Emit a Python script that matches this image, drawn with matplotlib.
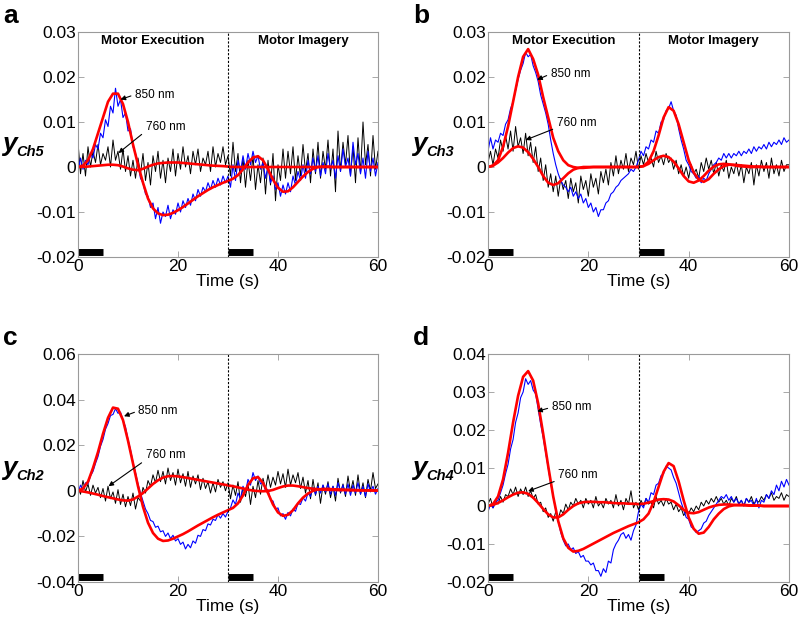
import numpy as np
import matplotlib
matplotlib.use("Agg")
import matplotlib.pyplot as plt
from matplotlib.ticker import FuncFormatter

plt.rcParams["font.family"] = ["Liberation Sans", "DejaVu Sans"]

# time axes: raw signals every 0.5 s, fitted curves every 1 s
t_raw = np.arange(0, 60.5, 0.5)
t_fit = np.arange(0, 61, 1)

# all values below are in units of 1e-3
# ---- panel a (Ch5) ----
black_a = [5.5, -1.5, 3.0, -2.0, 4.5, 0.0, 3.5, 1.0, 5.0, 0.5,
           3.0, 1.5, 4.5, 0.0, 6.0, 1.5, 3.5, -0.5, 4.0, -1.0,
           2.5, -2.0, 1.5, -2.5, 2.0, -1.5, 3.0, -3.0, 1.0, -4.0,
           2.5, -1.0, 3.5, -2.5, 1.5, -3.5, 2.0, -1.0, 4.0, -2.0,
           3.0, -0.5, 4.5, 0.0, 2.5, -1.5, 3.5, 0.5, 4.0, -1.0,
           2.0, 0.5, 3.5, -1.0, 4.5, 0.0, 3.0, 1.0, 4.5, 0.5,
           2.5, -2.0, 5.5, -1.0, 3.0, -3.5, 2.0, -4.5, 1.5, -3.0,
           2.5, -5.0, 0.5, -3.5, 2.0, -6.0, 1.5, -4.0, 3.0, -7.5,
           0.5, -3.0, 4.0, -2.5, 3.5, -1.5, 4.5, -3.0, 2.5, -2.0,
           5.0, -1.0, 3.0, -3.5, 4.0, -1.5, 5.5, -2.5, 3.5, -0.5,
           6.0, -2.0, 4.0, -5.5, 8.0, -1.0, 5.5, 0.5, 7.0, -2.0,
           4.5, -3.5, 6.5, -1.5, 10.0, 0.5, 5.0, -2.0, 7.0, -0.5,
           3.5]
blue_a = [-1.0, 2.0, -0.5, 1.5, 0.5, 3.0, 2.0, 5.0, 4.0, 7.5,
          6.5, 10.5, 9.0, 13.5, 12.0, 17.5, 13.5, 15.0, 11.0, 12.0,
          8.0, 8.5, 4.5, 3.0, 0.5, -2.5, -3.5, -6.0, -6.5, -9.0,
          -8.0, -11.5, -9.0, -12.5, -10.0, -11.0, -8.5, -11.5, -9.5, -10.5,
          -8.0, -10.0, -7.5, -9.0, -7.0, -8.5, -6.0, -7.5, -5.0, -6.5,
          -4.5, -5.5, -3.5, -5.0, -3.0, -4.5, -2.5, -4.0, -2.0, -3.5,
          -2.0, -4.5, 0.5, -3.0, 1.5, -1.0, 2.5, -0.5, 3.0, 0.5,
          3.5, 1.0, 2.5, -0.5, 1.0, -2.5, 0.0, -3.5, -2.0, -5.0,
          -3.5, -6.5, -4.0, -6.0, -3.5, -5.5, -2.0, -4.0, -1.0, -3.0,
          0.5, -2.5, 1.5, -1.5, 2.0, -1.0, 2.5, -2.0, 1.0, -1.5,
          3.0, -0.5, 1.5, -2.5, 2.5, -1.0, 4.0, 0.0, 2.0, -2.0,
          5.5, 0.5, 3.0, -1.5, 2.0, -2.5, 3.5, -1.0, 2.0, -2.0,
          1.0]
fit850_a = [0, 0.3, 1.5, 4, 7.5, 11, 14.5, 16.3, 16.3, 14,
            10, 5, 0.5, -3.5, -7, -9.2, -10.3, -10.7, -10.6, -10.2,
            -9.6, -8.9, -8.1, -7.3, -6.5, -5.8, -5.1, -4.5, -4.0, -3.5,
            -3.1, -2.6, -1.8, -0.5, 1.0, 2.1, 2.4, 1.5, -0.5, -2.8,
            -4.6, -5.5, -5.4, -4.5, -3.3, -2.1, -1.1, -0.4, 0, 0.1,
            0.1, 0, 0, 0, 0, 0, 0, 0, 0, 0, 0]
fit760_a = [0, 0.05, 0.1, 0.2, 0.3, 0.4, 0.5, 0.5, 0.4, 0.1,
            -0.3, -0.6, -0.7, -0.4, 0.1, 0.5, 0.8, 0.9, 1.0, 1.0,
            1.0, 0.9, 0.8, 0.7, 0.6, 0.5, 0.4, 0.3, 0.25, 0.2,
            0.1, 0, 0, 0, 0, 0, 0, 0, 0, 0,
            0, 0, 0, 0, 0, 0, 0, 0, 0, 0,
            0, 0, 0, 0, 0, 0, 0, 0, 0, 0, 0]

# ---- panel b (Ch3) ----
black_b = [1.0, 3.5, 0.5, 4.0, 2.0, 6.0, 3.5, 7.0, 4.0, 8.0,
           3.5, 9.0, 4.5, 6.5, 3.0, 7.5, 2.5, 5.5, 1.0, 4.5,
           -1.0, 2.0, -3.0, 0.5, -4.5, -1.5, -5.5, -2.0, -6.5, -2.5,
           -5.0, -3.0, -7.0, -2.5, -5.5, -3.5, -8.0, -2.0, -5.0, -3.0,
           -6.5, -1.5, -4.5, -2.5, -6.0, -1.0, -3.5, -0.5, -4.0, 1.0,
           -2.0, 2.5, -1.5, 1.5, -0.5, 3.0, -1.0, 2.0, 0.5, 3.5,
           -0.5, 2.5, 0.5, 3.0, 1.0, 2.0, 0.0, 3.5, 1.0, 2.5,
           0.5, 3.0, 1.0, 2.0, -0.5, 1.5, -1.5, 0.5, -2.0, 0.0,
           -2.5, 0.5, -1.5, -0.5, -2.5, 1.0, -1.0, 2.0, -0.5, 1.5,
           -1.5, 1.0, -2.0, 0.5, -1.0, 1.5, -2.5, 0.0, -1.5, 1.0,
           -2.0, 0.5, -3.5, 0.0, -1.5, 1.0, -4.0, 0.5, -2.0, 1.5,
           -1.0, 1.0, -2.5, 2.0, -1.5, 0.5, -2.0, 1.5, -1.0, 0.5,
           0.5]
blue_b = [3.5, 6.5, 4.0, 6.0, 5.5, 7.5, 7.0, 9.5, 10.5, 13.0,
          14.5, 17.0, 19.5, 21.5, 23.0, 25.5, 24.5, 25.0, 22.5, 21.0,
          19.0, 16.0, 14.0, 12.0, 9.5, 6.0, 3.0, 0.5, -1.5, -3.0,
          -4.0, -4.5, -5.5, -4.5, -6.5, -5.5, -7.0, -6.0, -8.0, -7.0,
          -9.0, -8.0, -10.0, -9.0, -11.0, -9.5, -9.5, -8.0, -7.5, -6.0,
          -5.5, -4.5, -4.0, -3.0, -2.5, -2.0, -1.5, -0.5, -1.0, 0.0,
          1.5, 3.5, 2.5, 4.5, 4.0, 6.0, 5.5, 8.0, 7.5, 10.0,
          10.5, 12.5, 13.0, 14.5, 12.5, 11.5, 8.5, 6.0, 4.0, 1.5,
          0.5, -1.0, -1.5, -2.5, -2.0, -3.5, -2.5, -3.0, -1.5, -0.5,
          0.5, 1.0, 2.0, 1.5, 3.0, 2.0, 3.0, 2.0, 3.0, 2.5,
          3.5, 2.5, 3.5, 3.0, 4.0, 3.0, 4.5, 3.5, 4.5, 4.0,
          5.0, 4.0, 5.5, 4.5, 5.5, 5.0, 6.0, 5.0, 6.5, 5.5,
          6.0]
fit850_b = [0, 0.3, 1.5, 4.5, 9, 14.5, 20, 24.5, 26.2, 24,
            20.5, 15.5, 11, 6.5, 3.5, 1.5, 0.4, 0, -0.2, -0.2,
            -0.1, 0, 0, 0, 0, 0, 0, 0, 0, 0,
            0, 0.2, 1.2, 3.5, 7, 11, 13.3, 12.5, 9.5, 5.5,
            1.5, -1.2, -2.8, -3.3, -2.7, -1.5, -0.5, 0.2, 0.5, 0.5,
            0.4, 0.3, 0.2, 0.1, 0.1, 0, 0, 0, 0, 0, 0]
fit760_b = [0, 0.3, 1, 2, 3.2, 4.2, 4.6, 4.3, 3.3, 1.8,
            0, -2, -3.5, -4.0, -3.6, -2.5, -1.4, -0.6, -0.2, 0,
            0, 0, 0, 0, 0, 0, 0, 0, 0, 0,
            0, 0.2, 0.7, 1.5, 2.2, 2.5, 2.2, 1.2, -0.3, -2,
            -3.2, -3.5, -3.0, -2.0, -0.8, 0.1, 0.6, 0.7, 0.6, 0.4,
            0.2, 0.1, 0, 0, 0, 0, 0, 0, 0, 0, 0]

# ---- panel c (Ch2) ----
black_c = [2.0, -1.5, 4.5, -0.5, 3.0, -2.0, 2.5, -1.0, 1.5, -3.0,
           1.0, -4.5, 2.0, -3.5, -0.5, -5.5, 0.5, -6.0, -1.5, -7.0,
           -2.5, -6.5, -1.0, -8.0, -3.0, -4.5, 1.5, -1.0, 4.5, 2.0,
           7.0, 3.5, 9.0, 4.0, 8.5, 3.0, 10.0, 4.5, 8.0, 2.5,
           9.5, 3.5, 7.5, 2.0, 8.5, 1.5, 6.5, 3.0, 7.0, 0.5,
           5.5, 1.0, 4.0, -1.0, 3.5, -0.5, 5.0, 1.5, 4.0, 0.0,
           3.5, -3.5, 2.5, -2.0, 4.0, -5.0, 1.5, -2.5, 3.0, -6.0,
           2.0, -3.0, 4.5, -1.5, 5.5, 0.5, 7.0, 1.5, 6.0, 2.5,
           8.5, 3.0, 7.5, 1.5, 9.5, 2.5, 7.0, 3.5, 8.0, 1.0,
           6.0, -1.0, 4.5, -3.5, 5.0, -2.0, 3.5, -5.5, 2.5, -1.5,
           4.0, -3.0, 2.0, -4.5, 5.5, -1.0, 3.0, -2.5, 6.5, -0.5,
           4.5, -2.0, 7.0, -1.5, 3.5, -3.0, 5.0, 0.0, 8.0, 1.0,
           3.0]
blue_c = [-1.0, 2.5, 0.5, 3.5, 3.0, 6.5, 8.5, 12.0, 15.0, 19.5,
          22.5, 27.0, 29.5, 33.0, 33.5, 36.0, 34.0, 34.5, 31.0, 28.0,
          22.5, 18.0, 12.5, 8.0, 3.0, -1.0, -4.5, -8.0, -10.0, -13.0,
          -13.5, -16.0, -15.5, -18.0, -17.5, -20.0, -18.5, -21.0, -19.5, -22.0,
          -21.0, -23.5, -22.5, -25.5, -23.5, -25.0, -22.0, -23.0, -19.5, -20.0,
          -17.0, -17.5, -14.5, -15.0, -12.5, -13.0, -10.5, -12.0, -10.0, -11.5,
          -9.0, -7.5, -4.0, -6.0, -1.0, -3.5, 2.0, -0.5, 5.0, 2.5,
          8.0, 4.5, 6.5, 3.0, 4.0, 0.0, 0.5, -4.0, -4.5, -8.0,
          -7.5, -11.0, -10.0, -12.5, -9.5, -11.0, -8.0, -9.0, -5.5, -6.0,
          -3.0, -4.5, -1.0, -2.5, 1.5, -1.5, 2.0, -1.0, 2.5, -0.5,
          3.0, -1.5, 2.0, -2.0, 3.5, -0.5, 2.5, -1.5, 3.0, -2.0,
          2.5, -1.0, 3.5, -1.5, 2.0, -2.5, 3.0, -0.5, 2.0, -1.5,
          1.0]
fit850_c = [0, 1, 4, 10, 17, 25, 32, 36.5, 36, 31,
            22, 12, 2, -7, -14, -18.5, -21, -22, -21.8, -21,
            -20, -19, -17.8, -16.5, -15.2, -14, -12.8, -11.6, -10.5, -9.5,
            -8.5, -7.5, -5.5, -2, 2.5, 5.5, 6, 3.5, -1, -6,
            -9.5, -11, -10.5, -8.5, -5.5, -3, -1.2, 0, 0.6, 0.8,
            0.8, 0.7, 0.6, 0.5, 0.4, 0.3, 0.3, 0.2, 0.2, 0.1, 0.1]
fit760_c = [0, -0.3, -0.7, -1.2, -1.7, -2.3, -2.8, -3.3, -3.8, -4.2,
            -4.3, -3.8, -2.5, -1, 1, 3, 4.6, 5.8, 6.4, 6.5,
            6.3, 6.0, 5.6, 5.2, 4.8, 4.4, 4.0, 3.6, 3.2, 2.8,
            2.4, 2.0, 1.5, 1.0, 0.5, 0.1, -0.1, -0.2, -0.1, 0.4,
            1.2, 1.9, 2.3, 2.3, 2.0, 1.6, 1.2, 0.9, 0.7, 0.5,
            0.4, 0.4, 0.3, 0.3, 0.3, 0.3, 0.2, 0.2, 0.2, 0.2, 0.2]

# ---- panel d (Ch4) ----
black_d = [0.5, 2.0, -0.5, 1.5, 0.5, 2.5, 1.0, 3.0, 2.5, 4.5,
           3.0, 5.0, 2.5, 4.5, 3.0, 5.0, 2.5, 4.0, 2.0, 3.0,
           0.5, 1.0, -1.5, -0.5, -3.0, -2.0, -4.0, -1.5, -3.5, -1.0,
           -2.0, 0.5, -1.0, 1.0, 0.0, 2.0, 0.5, 1.5, -0.5, 2.0,
           0.5, 1.5, -0.5, 2.5, 0.0, 1.0, -0.5, 2.0, 0.5, 1.5,
           -0.5, 3.0, 0.0, 1.5, -1.0, 2.0, 0.5, 4.0, -0.5, 1.0,
           -1.0, 1.5, 0.0, 2.0, 0.5, 1.0, -0.5, 2.5, 0.5, 1.5,
           0.0, 2.0, 0.5, 1.0, -1.0, 0.5, -1.5, -0.5, -2.5, -1.5,
           -2.0, -0.5, -1.5, 0.0, -1.0, 1.0, 0.0, 1.5, 0.5, 2.0,
           1.0, 2.5, 1.0, 2.0, 0.5, 1.5, 0.0, 2.0, 1.0, 2.5,
           0.5, 1.5, 0.0, 2.0, 1.0, 2.5, 0.5, 1.5, 1.0, 2.5,
           1.5, 3.0, 2.0, 3.5, 1.5, 2.5, 2.0, 3.5, 1.5, 3.0,
           2.5]
blue_d = [-1.5, 0.5, -0.5, 1.0, 1.5, 3.5, 5.5, 8.5, 11.0, 15.0,
          17.5, 22.0, 24.5, 28.5, 30.0, 33.5, 32.0, 33.0, 30.5, 29.5,
          25.5, 21.5, 18.0, 14.0, 10.0, 6.0, 2.5, -1.0, -4.0, -7.0,
          -9.0, -10.5, -10.0, -11.5, -11.0, -12.5, -12.0, -13.5, -13.0, -14.5,
          -14.5, -15.5, -15.0, -17.0, -17.0, -18.5, -16.5, -17.5, -14.5, -15.0,
          -11.5, -10.0, -9.0, -7.5, -7.0, -8.5, -7.5, -9.0, -6.5, -5.0,
          -1.5, 0.5, -0.5, 2.0, 1.0, 3.5, 3.0, 5.5, 6.0, 8.0,
          8.5, 10.5, 10.0, 9.5, 7.5, 6.0, 3.5, 1.0, -1.0, -3.0,
          -3.5, -5.5, -6.0, -7.0, -6.5, -6.0, -4.5, -4.0, -2.5, -1.5,
          -0.5, 0.5, 1.5, 2.5, 2.0, 3.0, 1.5, 2.5, 1.0, 2.0,
          0.5, 1.5, 0.0, 2.0, 1.0, 1.5, 0.0, 2.0, -0.5, 1.5,
          1.0, 3.0, 2.0, 4.0, 3.0, 5.5, 4.0, 6.5, 5.0, 7.0,
          5.5]
fit850_d = [0, 0.5, 2.5, 7, 14, 22, 29, 34, 35.5, 33,
            27, 19, 10.5, 2.5, -4, -8.5, -11, -12, -11.8, -11.3,
            -10.6, -9.9, -9.2, -8.5, -7.8, -7.1, -6.5, -5.9, -5.3, -4.8,
            -4.3, -3.5, -2, 1, 5, 9, 11.3, 10.5, 6.5, 1.5,
            -3, -6, -7.3, -7, -5.5, -3.5, -2, -0.8, -0.1, 0.2,
            0.3, 0.3, 0.2, 0.1, 0.1, 0, 0, 0, 0, 0, 0]
fit760_d = [0, 0.3, 0.8, 1.5, 2.3, 3.0, 3.5, 3.6, 3.2, 2.2,
            0.8, -0.8, -2.2, -3.0, -3.0, -2.2, -1.0, 0, 0.7, 1.0,
            1.1, 1.1, 1.0, 1.0, 0.9, 0.8, 0.7, 0.7, 0.6, 0.6,
            0.5, 0.6, 0.9, 1.3, 1.7, 1.8, 1.7, 1.2, 0.2, -1.0,
            -1.8, -1.9, -1.6, -1.0, -0.4, 0, 0.3, 0.4, 0.4, 0.3,
            0.2, 0.2, 0.1, 0.1, 0.1, 0, 0, 0, 0, 0, 0]

yticks_ab = [-0.02, -0.01, 0, 0.01, 0.02, 0.03]
yticks_c = [-0.04, -0.02, 0, 0.02, 0.04, 0.06]
yticks_d = [-0.02, -0.01, 0, 0.01, 0.02, 0.03, 0.04]

W, H = 799, 619
fig = plt.figure(figsize=(W / 100, H / 100), dpi=100)

def px_txt(px, py, s, **kw):
    fig.text(px / W, 1 - py / H, s, **kw)

# letter, channel, axes rect (pixels: left, top, right, bottom), data, yticks,
# annotation positions (text xy, arrow head xy) in (s, 1e-3)
panels = [
    ("a", "Ch5", (78, 32, 378, 257), black_a, blue_a, fit850_a, fit760_a, yticks_ab,
     ((11.4, 16.1), (8.5, 15.0)), ((13.5, 9.0), (8.1, 3.1)), True),
    ("b", "Ch3", (488, 32, 789, 257), black_b, blue_b, fit850_b, fit760_b, yticks_ab,
     ((12.5, 20.7), (9.8, 19.4)), ((13.7, 9.8), (7.5, 6.0)), True),
    ("c", "Ch2", (78, 354, 378, 582), black_c, blue_c, fit850_c, fit760_c, yticks_c,
     ((12.1, 35.1), (9.2, 32.7)), ((13.5, 15.6), (6.1, 2.0)), False),
    ("d", "Ch4", (488, 354, 789, 582), black_d, blue_d, fit850_d, fit760_d, yticks_d,
     ((12.7, 26.0), (9.8, 24.9)), ((14.0, 8.1), (8.0, 3.9)), False),
]

frame = "#9a9a9a"
for letter, ch, (l, t, r, b), blk, blu, f850, f760, yt, a850, a760, top in panels:
    ax = fig.add_axes([l / W, 1 - b / H, (r - l) / W, (b - t) / H])
    ax.plot(t_raw, np.array(blk) * 1e-3, color="black", lw=0.7)
    ax.plot(t_raw, np.array(blu) * 1e-3, color="#0000ff", lw=0.8)
    ax.plot(t_fit, np.array(f760) * 1e-3, color="#ff0000", lw=1.9)
    ax.plot(t_fit, np.array(f850) * 1e-3, color="#ff0000", lw=1.9)

    ymin, ymax = yt[0], yt[-1]
    ax.set_xlim(0, 60)
    ax.set_ylim(ymin, ymax)
    ax.axvline(30, color="black", lw=0.8, ls=(0, (2, 1.5)))

    # task blocks
    yb = ymin + 0.022 * (ymax - ymin)
    ax.plot([0, 5], [yb, yb], color="black", lw=5, solid_capstyle="butt")
    ax.plot([30, 35], [yb, yb], color="black", lw=5, solid_capstyle="butt")

    if top:
        yt_txt = ymax - 0.012 * (ymax - ymin)
        ax.text(15, yt_txt, "Motor Execution", ha="center", va="top",
                fontsize=9.5, fontweight="bold")
        ax.text(45, yt_txt, "Motor Imagery", ha="center", va="top",
                fontsize=9.5, fontweight="bold")

    for lab, (txy, hxy), rp in (("850 nm", a850, (0, 0.5)), ("760 nm", a760, (0.0, 0.1))):
        ax.annotate(lab, xy=(hxy[0], hxy[1] * 1e-3), xytext=(txy[0], txy[1] * 1e-3),
                    ha="left", va="center", fontsize=8.5,
                    arrowprops=dict(arrowstyle="-|>", color="black", lw=0.8,
                                    mutation_scale=7, shrinkA=1, shrinkB=0,
                                    relpos=rp))

    ax.set_xticks([0, 20, 40, 60])
    ax.set_yticks(yt)
    ax.yaxis.set_major_formatter(FuncFormatter(lambda v, p: "%g" % v))
    ax.tick_params(direction="in", top=True, right=True, length=4, width=0.6,
                   color=frame, labelsize=12.5, pad=1.5)
    for s in ax.spines.values():
        s.set_color(frame)
        s.set_linewidth(0.8)
    ax.set_xlabel("Time (s)", fontsize=12.5, labelpad=0)

    # panel letter and y label
    px_txt(l - 75, t - 9, letter, fontsize=19, fontweight="bold", va="baseline")
    yc = (t + b) / 2
    px_txt(l - 76, yc + 7, "y", fontsize=19, fontweight="bold", fontstyle="italic",
           va="baseline")
    px_txt(l - 62, yc + 12, ch, fontsize=10.5, fontweight="bold", fontstyle="italic",
           va="baseline")

fig.savefig("out.png", dpi=100)
